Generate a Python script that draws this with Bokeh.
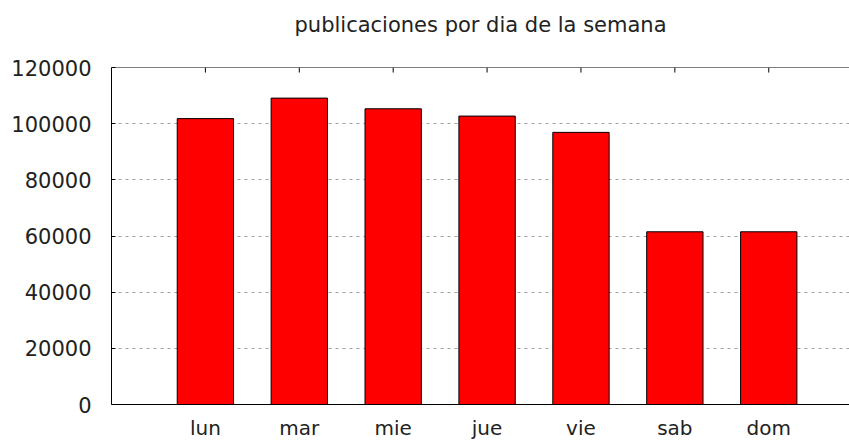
from bokeh.plotting import figure
from bokeh.models import FixedTicker, Range1d, ColumnDataSource, Span
from bokeh.embed import file_html
from bokeh.resources import INLINE

days = ["lun", "mar", "mie", "jue", "vie", "sab", "dom"]
counts = [101800, 109100, 105300, 102700, 96900, 61500, 61500]
y_ticks = [0, 20000, 40000, 60000, 80000, 100000, 120000]
title_text = "publicaciones por dia de la semana"

positions = list(range(len(days)))
y_max = y_ticks[-1]
src = ColumnDataSource(dict(x=positions, top=counts))

FONT = "DejaVu Sans"
TXT = "#222222"

p = figure(width=849, height=442, output_backend="svg", toolbar_location=None,
           x_range=Range1d(-1, 6.86), y_range=Range1d(0, y_max),
           min_border_left=111, min_border_right=0,
           min_border_top=67, min_border_bottom=37)

p.title.text = title_text
p.title.align = "center"
p.title.text_font = FONT
p.title.text_font_size = "21px"
p.title.text_font_style = "normal"
p.title.text_color = TXT
p.title.standoff = 10
p.title.padding = dict(left=0, right=0, top=0, bottom=26)
p.title.offset = 4

p.outline_line_color = None
p.background_fill_color = "white"
p.border_fill_color = "white"

p.vbar(x="x", top="top", width=0.6, source=src,
       fill_color="#ff0000", line_color="#000000", line_width=1)

# x axis (bottom): axis line and day names; bar-centre ticks are hidden by the bars
xa = p.xaxis[0]
xa.ticker = FixedTicker(ticks=positions)
xa.major_label_overrides = {i: d for i, d in enumerate(days)}
xa.axis_line_color = "#000000"
xa.major_tick_line_color = None
xa.major_tick_in = 0
xa.major_tick_out = 0
xa.minor_tick_line_color = None
xa.major_label_text_font = FONT
xa.major_label_text_font_size = "20px"
xa.major_label_text_color = TXT
xa.major_label_standoff = 11

# y axis (left)
ya = p.yaxis[0]
ya.ticker = FixedTicker(ticks=y_ticks)
ya.axis_line_color = "#000000"
ya.major_tick_in = 4
ya.major_tick_out = 0
ya.minor_tick_line_color = None
ya.major_label_text_font = FONT
ya.major_label_text_font_size = "21px"
ya.major_label_text_color = TXT
ya.major_label_standoff = 20
ya.formatter.use_scientific = False

# top border with mirrored ticks
p.add_layout(Span(location=y_max, dimension="width", line_color="#000000",
                  line_width=1))
p.segment(x0=positions, x1=positions, y0=[y_max] * len(days),
          y1=[y_max - 1800] * len(days), line_color="#000000", line_width=1)

p.xgrid.grid_line_color = None
p.ygrid.ticker = FixedTicker(ticks=y_ticks[1:-1])
p.ygrid.grid_line_color = "#a0a0a0"
p.ygrid.grid_line_dash = "3 4"
p.ygrid.grid_line_width = 1

open("out.html", "w").write(file_html(p, INLINE))
